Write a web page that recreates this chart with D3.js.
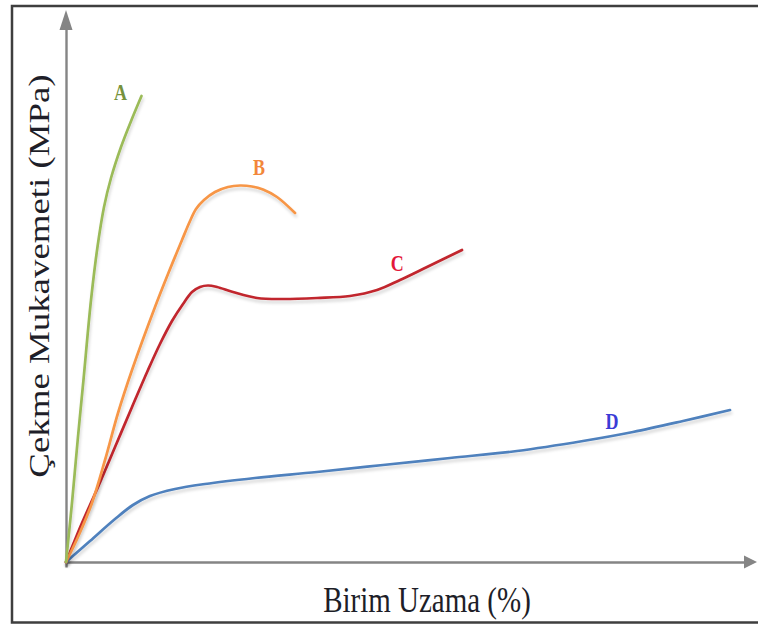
<!DOCTYPE html>
<html><head><meta charset="utf-8">
<script src="https://cdn.jsdelivr.net/npm/d3@7"></script>
<style>html,body{margin:0;padding:0;background:#fff;}svg{display:block;}</style>
</head><body>
<script>
// Series data (x: Birim Uzama, y: Çekme Mukavemeti), relative units
const seriesNames = ["A", "B", "C", "D"];
const seriesA = [[0,0],[0.88,11.8],[1.76,25],[2.57,36.4],[3.68,52.4],[4.63,63],[5.59,71],[6.62,76.8],[8.09,83],[9.63,88.4],[11.1,93.2]];
const seriesB = [[0,0],[1.76,5],[3.82,11.8],[5.74,20.4],[7.65,29.8],[9.71,38.4],[13.09,51],[15,57.6],[17.06,64.4],[18.24,68.2],[19.12,70.6],[20.29,72.4],[21.91,74],[23.82,75],[25.59,75.3],[27.35,75.1],[28.97,74.5],[31.03,73],[33.68,69.8]];
const seriesC = [[0,0],[2.35,7.8],[4.71,15],[7.21,23],[9.71,31],[12.06,38.4],[13.82,43.6],[15.59,48.2],[17.21,51.6],[18.53,54],[19.71,55],[20.88,55.3],[22.21,55],[24.56,54],[28.09,52.8],[31.91,52.6],[36.91,52.8],[41.76,53.2],[45.74,54.4],[49.12,56.4],[53.09,59],[58.24,62.4]];
const seriesD = [[0,0],[3.53,4.2],[7.21,8.6],[9.85,11.4],[12.35,13.2],[16.03,14.6],[20.44,15.6],[27.79,16.8],[36.91,18],[46.62,19.4],[56.47,20.8],[66.32,22.2],[76.03,24.2],[83.38,26],[90.74,28.2],[97.65,30.4]];
const labelPos = [[8,92.4],[28.4,77.4],[48.7,58.2],[80.3,26.6]];
const lineColors = ["#9bbb59", "#f79646", "#c1272d", "#4f81bd"];
const labelColors = ["#76923c", "#f2873a", "#e3173a", "#3b3bd6"];
const xTitle = "Birim Uzama (%)";
const yTitle = "Çekme Mukavemeti (MPa)";

const W = 758, H = 626;
const svg = d3.select("body").append("svg").attr("width", W).attr("height", H);
const defs = svg.append("defs");
const f = defs.append("filter").attr("id","sh").attr("x","-10%").attr("y","-10%").attr("width","130%").attr("height","140%");
f.append("feDropShadow").attr("dx",1).attr("dy",3).attr("stdDeviation",1.8).attr("flood-color","#000").attr("flood-opacity",0.16);

// frame
svg.append("rect").attr("x",12).attr("y",6).attr("width",780).attr("height",616.5)
  .attr("fill","none").attr("stroke","#3e3e3e").attr("stroke-width",2.5);

const x = d3.scaleLinear().domain([0,100]).range([66,746]);
const y = d3.scaleLinear().domain([0,100]).range([562,62]);

const axisCol = "#858585";
// axes via d3 axis with no ticks, extended to arrows
const xAx = x.copy().domain([0,101.5]).range([66,750]);
const yAx = y.copy().domain([-1,108]).range([567,24]);
const gx = svg.append("g").attr("transform",`translate(0,${y(0)})`).call(d3.axisBottom(xAx).ticks(0).tickSizeOuter(0));
const gy = svg.append("g").attr("transform",`translate(${x(0)},0)`).call(d3.axisLeft(yAx).ticks(0).tickSizeOuter(0));
[gx,gy].forEach(g=>g.select(".domain").attr("stroke",axisCol).attr("stroke-width",2.4));
// arrowheads
svg.append("path").attr("d",`M${xAx.range()[1]-6},${y(0)-6.5}L${xAx.range()[1]+7},${y(0)}L${xAx.range()[1]-6},${y(0)+6.5}Z`).attr("fill",axisCol);
svg.append("path").attr("d",`M${x(0)-6.5},${yAx.range()[1]+6}L${x(0)},${yAx.range()[1]-14}L${x(0)+6.5},${yAx.range()[1]+6}Z`).attr("fill",axisCol);

const line = d3.line().x(d=>x(d[0])).y(d=>y(d[1])).curve(d3.curveCatmullRom.alpha(0.5));
const allSeries = [seriesA, seriesB, seriesC, seriesD];
// draw D first so others overlap
[3,2,1,0].forEach(i=>{
  svg.append("path").datum(allSeries[i]).attr("d",line)
    .attr("fill","none").attr("stroke",lineColors[i]).attr("stroke-width",2.7)
    .attr("stroke-linecap","round").attr("stroke-linejoin","round").attr("filter","url(#sh)");
});

seriesNames.forEach((n,i)=>{
  svg.append("text").attr("transform",`translate(${x(labelPos[i][0])},${y(labelPos[i][1])}) scale(1,1.25)`)
    .attr("text-anchor","middle").attr("font-family","'Liberation Serif', 'Times New Roman', serif")
    .attr("font-weight","bold").attr("font-size",18).attr("fill",labelColors[i]).text(n);
});

svg.append("text").attr("transform",`translate(427,612) scale(1,1.22)`)
  .attr("text-anchor","middle").attr("font-family","'Liberation Serif', 'Times New Roman', serif")
  .attr("font-size",29).attr("fill","#1e1e28").text(xTitle);
svg.append("text").attr("transform",`translate(49,276) scale(1,1.25) rotate(-90)`)
  .attr("text-anchor","middle").attr("font-family","'Liberation Serif', 'Times New Roman', serif")
  .attr("font-size",29.5).attr("fill","#1e1e28").text(yTitle);
</script>
</body></html>
